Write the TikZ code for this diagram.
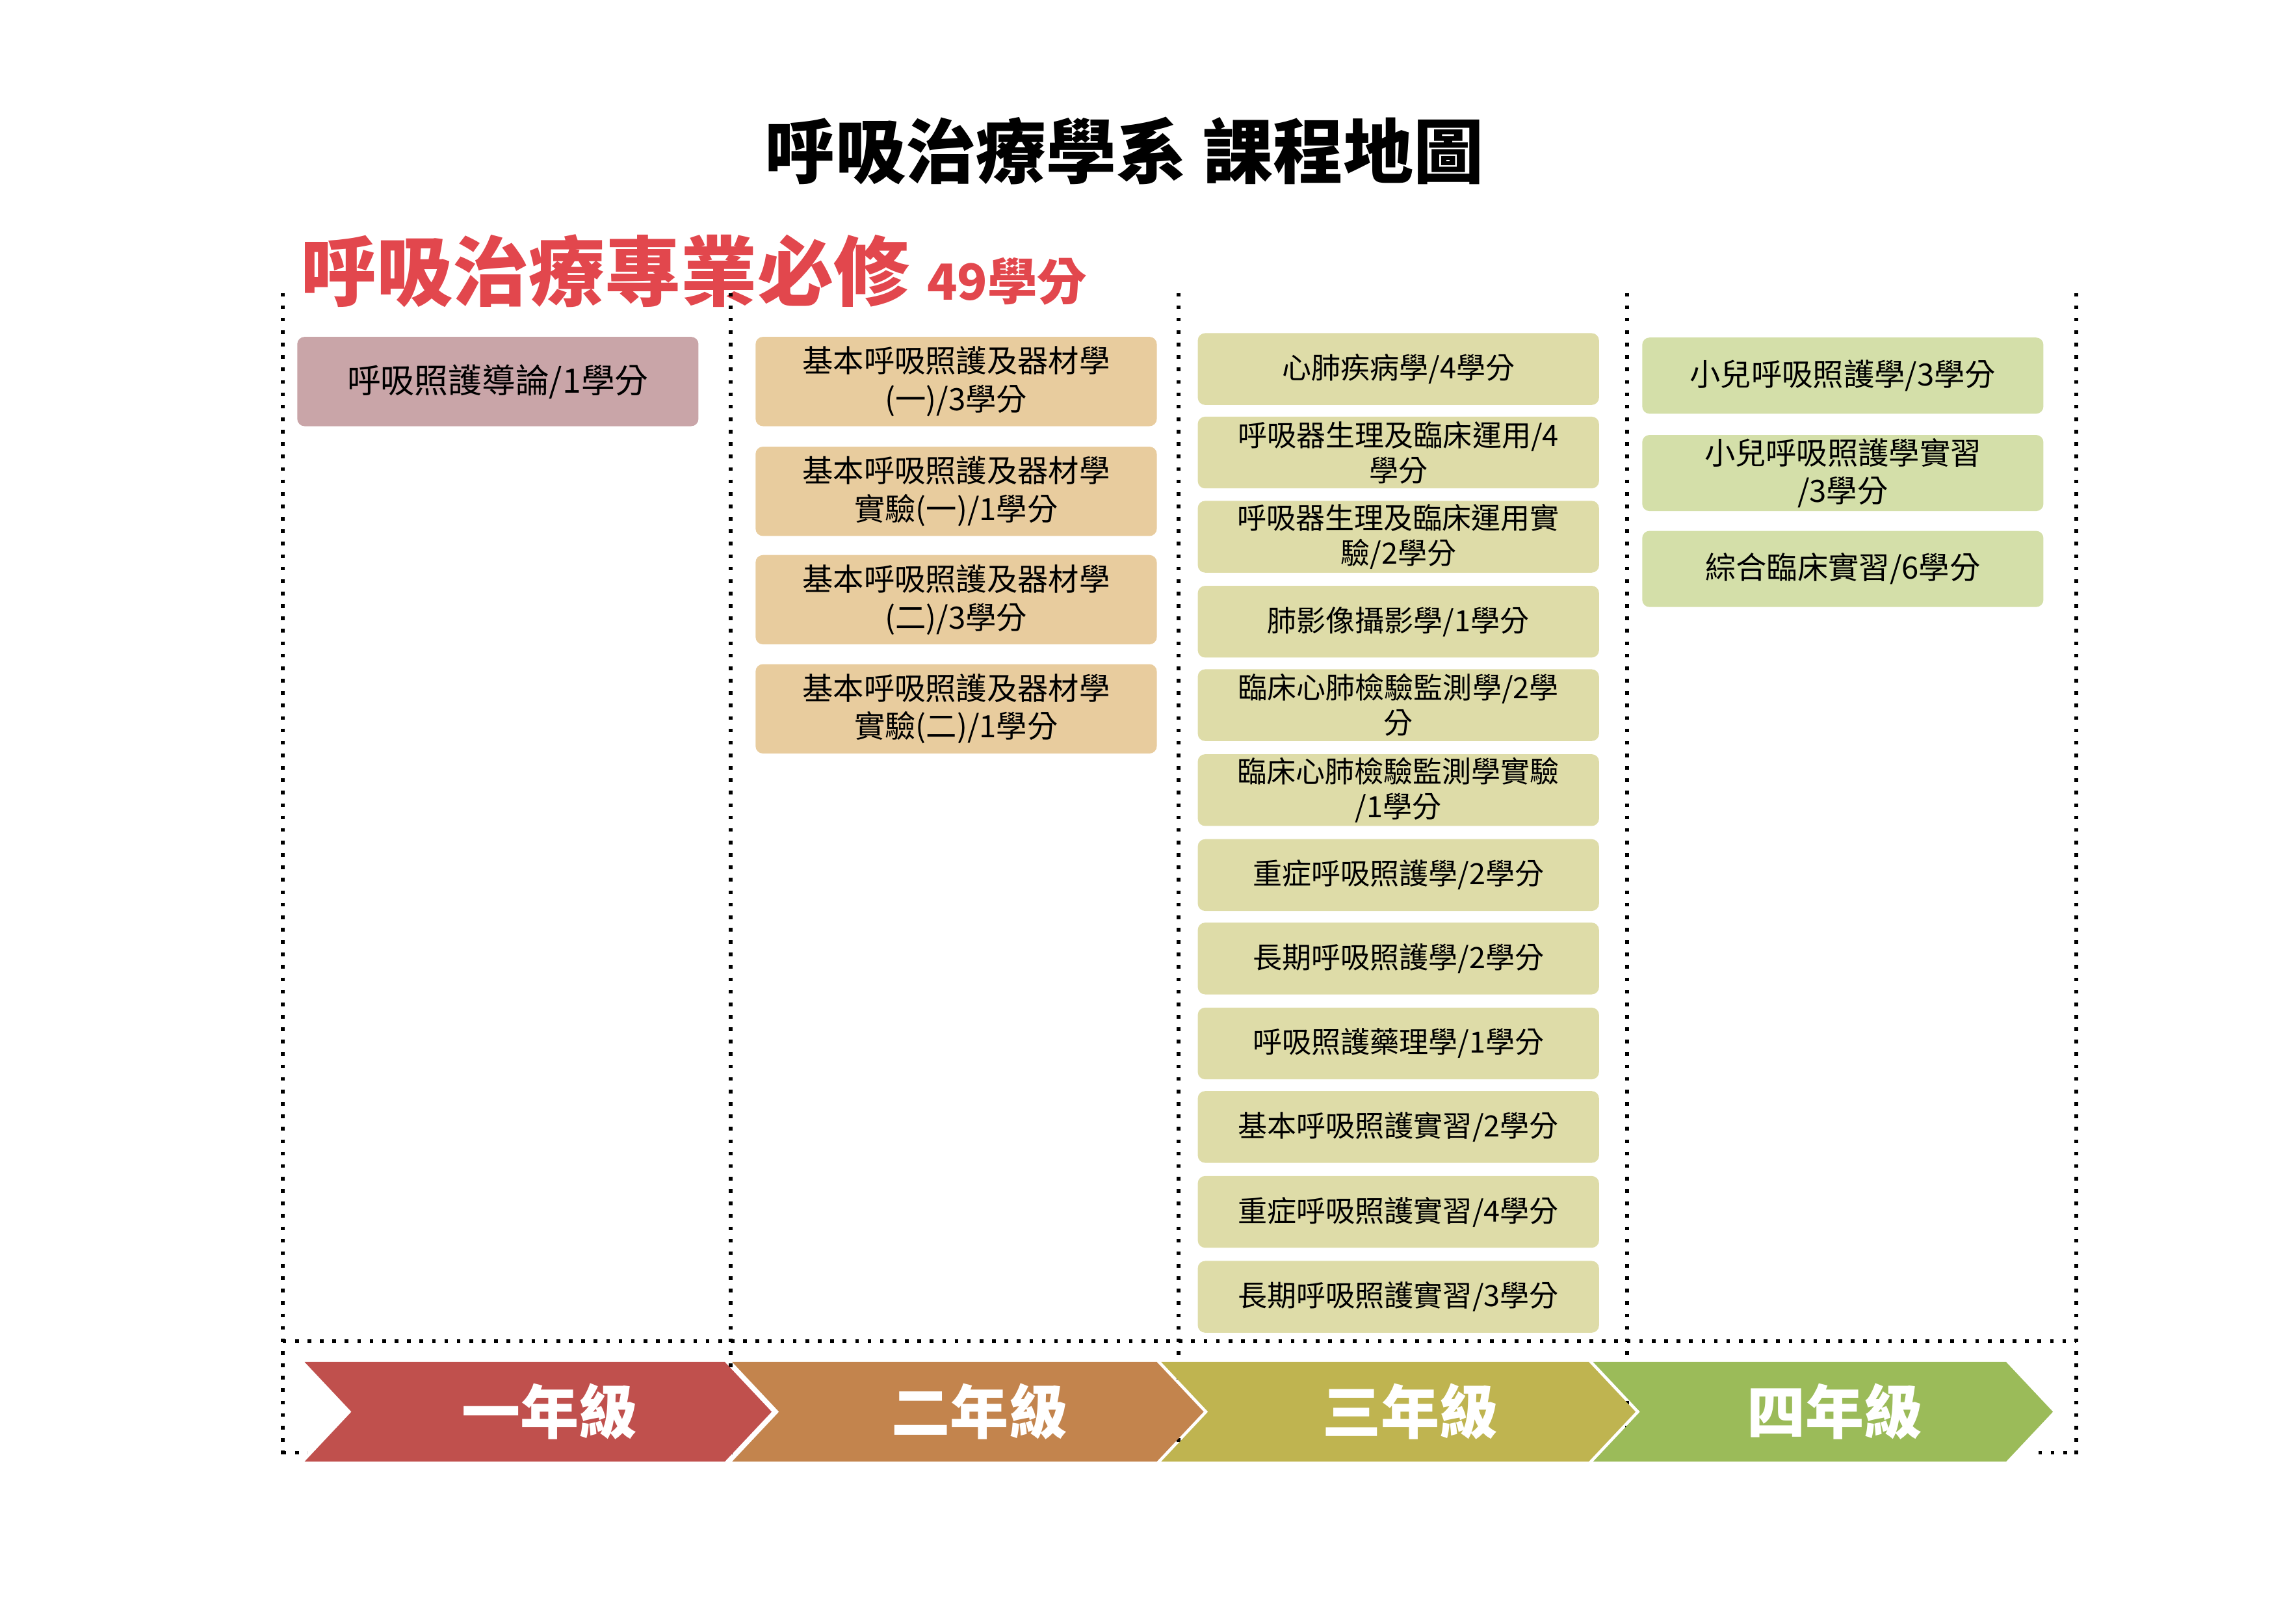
\documentclass[tikz,border=0pt]{standalone}
\usepackage{fontspec}
\setmainfont{Noto Sans CJK TC}
\begin{document}
\begin{tikzpicture}[x=1pt,y=-1pt,
  vdot/.style={line width=2.6pt,dash pattern=on 2.5pt off 6pt},
  course/.style={rounded corners=5pt,minimum width=274pt,align=center,inner sep=0pt,font=\fontsize{21}{26}\selectfont},
  yearlbl/.style={text=white,font=\fontsize{40}{40}\selectfont\bfseries}]
\useasboundingbox (0,0) rectangle (1568,1101);
\definecolor{cA}{HTML}{C9A5A8}\definecolor{cB}{HTML}{E8CC9E}
\definecolor{cC}{HTML}{DEDCA8}\definecolor{cD}{HTML}{D4DFA9}
\definecolor{rA}{HTML}{C0504D}\definecolor{rB}{HTML}{C3844D}
\definecolor{rC}{HTML}{BFB450}\definecolor{rD}{HTML}{9BBB59}
\definecolor{redt}{HTML}{E2474D}
\node[font=\fontsize{48}{48}\selectfont\bfseries] (title) at (768,103) {呼吸治療學系 課程地圖};
\node[anchor=base west,text=redt,inner sep=0pt,font=\fontsize{52}{52}\selectfont\bfseries] (req) at (205,205) {呼吸治療專業必修 {\fontsize{34}{34}\selectfont 49學分}};
% dotted frame
\foreach \x/\n in {193/a,499/b,805/c,1111/d,1418/e}{
  \coordinate (t\n) at (\x,200); \coordinate (b\n) at (\x,995);
  \draw[vdot] (t\n) -- (b\n);}
\coordinate (hl) at (193,916); \coordinate (hr) at (1418,916);
\draw[vdot] (hl) -- (hr);
\coordinate (br1) at (1392,992); \coordinate (br2) at (1418,992);
\draw[vdot] (br1) -- (br2);
\coordinate (bl1) at (193,992); \coordinate (bl2) at (210,992);
\draw[vdot] (bl1) -- (bl2);
% col 1
\node[course,fill=cA,minimum height=61pt,font=\fontsize{23}{26}\selectfont] (a1) at (340,260.5) {呼吸照護導論/1學分};
% col 2
\foreach \y/\t [count=\i] in {260.5/{基本呼吸照護及器材學\\(一)/3學分},335.5/{基本呼吸照護及器材學\\實驗(一)/1學分},409.5/{基本呼吸照護及器材學\\(二)/3學分},484/{基本呼吸照護及器材學\\實驗(二)/1學分}}
  \node[course,fill=cB,minimum height=61pt] (b\i) at (653,\y) {\t};
% col 3
\foreach \y/\t [count=\i] in {252/{心肺疾病學/4學分},309/{呼吸器生理及臨床運用/4\\學分},366.5/{呼吸器生理及臨床運用實\\驗/2學分},424.5/{肺影像攝影學/1學分},481.5/{臨床心肺檢驗監測學/2學\\分},539.5/{臨床心肺檢驗監測學實驗\\/1學分},597.5/{重症呼吸照護學/2學分},654.5/{長期呼吸照護學/2學分},712.5/{呼吸照護藥理學/1學分},769.5/{基本呼吸照護實習/2學分},827.5/{重症呼吸照護實習/4學分},885.5/{長期呼吸照護實習/3學分}}
  \node[course,fill=cC,minimum height=49pt,font=\fontsize{20}{24}\selectfont] (c\i) at (955,\y) {\t};
% col 4
\foreach \y/\t [count=\i] in {256.5/{小兒呼吸照護學/3學分},323/{小兒呼吸照護學實習\\/3學分},388.5/{綜合臨床實習/6學分}}
  \node[course,fill=cD,minimum height=52pt] (d\i) at (1258.5,\y) {\t};
% chevrons
\foreach \x/\w/\c/\t/\n in {208/287/rA/一年級/1,500/290/rB/二年級/2,793/292/rC/三年級/3,1088/282/rD/四年級/4}{
  \fill[\c] (\x,930) -- ++(\w,0) -- ++(32,34) -- ++(-32,34) -- (\x,998) -- ++(32,-34) -- cycle;
  \node[yearlbl] (y\n) at ({\x+32+(\w-32)/2+8},964) {\t};}
\end{tikzpicture}
\end{document}
